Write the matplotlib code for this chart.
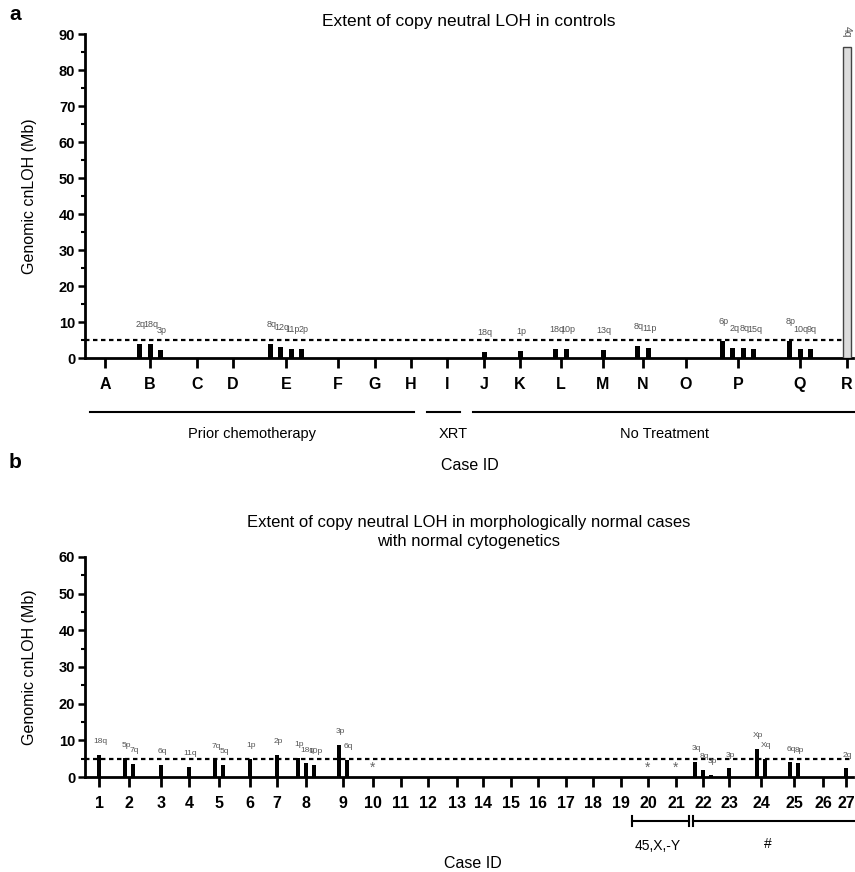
import matplotlib
matplotlib.use("Agg")
import matplotlib.pyplot as plt
from matplotlib.ticker import MultipleLocator

plt.rcParams['font.family'] = ['Liberation Sans', 'DejaVu Sans']

# ---- panel a data ----
cases_a = ['A', 'B', 'C', 'D', 'E', 'F', 'G', 'H', 'I',
           'J', 'K', 'L', 'M', 'N', 'O', 'P', 'Q', 'R']
regions_a = [[], ['2q', '18q', '3p'], [], [], ['8q', '12q', '11p', '2p'],
             [], [], [], [], ['18q'], ['1p'], ['18q', '10p'], ['13q'],
             ['8q', '11p'], [], ['6p', '2q', '8q', '15q'], ['8p', '10q', '9q'], ['4q']]
loh_a = [[], [3.8, 3.8, 2.1], [], [], [3.8, 3.1, 2.6, 2.6],
         [], [], [], [], [1.8], [2.0], [2.5, 2.5], [2.1],
         [3.4, 2.9], [], [4.7, 2.9, 2.9, 2.5], [4.7, 2.5, 2.5], [86.5]]
groups_a = ['Prior chemotherapy', 'XRT', 'No Treatment']

# ---- panel b data ----
cases_b = [str(i) for i in range(1, 28)]
regions_b = [['18q'], ['5p', '7q'], ['6q'], ['11q'], ['7q', '5q'], ['1p'], ['2p'],
             ['1p', '18q', '10p'], ['3p', '6q'], [], [], [], [], [], [], [], [], [], [],
             [], [], ['3q', '8q', '3p'], ['3p'], ['Xp', 'Xq'], ['6q', '8p'], [], ['2q']]
loh_b = [[6.0], [5.1, 3.5], [3.4], [2.8], [4.6, 3.4], [4.9], [6.0],
         [5.2, 3.7, 3.4], [8.7, 4.6], [], [], [], [], [], [], [], [], [], [],
         [], [], [4.1, 1.9, 0.5], [2.4], [7.6, 4.9], [4.0, 3.7], [], [2.4]]
starred_b = ['10', '20', '21']
threshold = 5

# ---- layout (x positions in pixel-like units) ----
tick_x_a = [105, 150, 197, 233, 286, 338, 375, 411, 447,
            484, 520, 561, 603, 643, 686, 738, 800, 847]
tick_x_b = [99, 129, 161, 189, 219, 250, 277, 306, 343, 373, 401, 428, 457, 483,
            511, 538, 566, 593, 621, 648, 676, 703, 729, 761, 794, 823, 846]

W, H = 855, 872
fig = plt.figure(figsize=(W / 100, H / 100), dpi=100)


def fx(px):
    return px / W


def fy(py):
    return 1 - py / H


def style_axis(ax, ymax, xticks, labels):
    ax.set_xlim(85, 853)
    ax.set_ylim(0, ymax)
    for s in ['top', 'right']:
        ax.spines[s].set_visible(False)
    for s in ['left', 'bottom']:
        ax.spines[s].set_linewidth(2)
    ax.yaxis.set_major_locator(MultipleLocator(10))
    ax.yaxis.set_minor_locator(MultipleLocator(5))
    ax.tick_params(axis='y', which='major', length=5, width=1.8, labelsize=10.5, pad=2)
    ax.tick_params(axis='y', which='minor', length=3, width=1.5)
    ax.set_xticks(xticks)
    ax.set_xticklabels(labels)
    ax.tick_params(axis='x', length=7, width=2, labelsize=11.5, pad=7)
    for t in ax.get_xticklabels() + ax.get_yticklabels():
        t.set_fontweight('bold')
    ax.set_ylabel('Genomic cnLOH (Mb)', fontsize=11.5, labelpad=16)


def draw_bars(ax, xs, regions, values, step, width, off_pt, fs):
    for x, regs, vals in zip(xs, regions, values):
        n = len(vals)
        for k, (r, v) in enumerate(zip(regs, vals)):
            bx = x + (k - (n - 1) / 2) * step
            ax.bar(bx, v, width=width, color='black', zorder=3)
            ax.annotate(r, (bx, v), xytext=(1, off_pt), textcoords='offset points',
                        ha='center', va='center', fontsize=fs, color='#555555')


# ---------------- panel a ----------------
ax1 = fig.add_axes([fx(85), fy(358), fx(853) - fx(85), (358 - 34) / H])
style_axis(ax1, 90, tick_x_a, cases_a)
draw_bars(ax1, tick_x_a[:-1], regions_a[:-1], loh_a[:-1], 10.5, 5, 14, 6.5)
# the outlier case drawn as an outlined grey bar
ax1.bar(tick_x_a[-1], loh_a[-1][0], width=8.5, color='#dcdcdc', edgecolor='#444444',
        linewidth=1, zorder=3)
ax1.annotate(regions_a[-1][0], (tick_x_a[-1], loh_a[-1][0]), xytext=(0, 11),
             textcoords='offset points', ha='center', va='center', fontsize=7.5,
             color='#555555', rotation=-90)
ax1.plot([85, 843], [threshold, threshold], color='black', lw=1.6,
         linestyle=(0, (2, 1.6)), zorder=2)
ax1.set_title('Extent of copy neutral LOH in controls', fontsize=12.5, pad=6)

tr = ax1.get_xaxis_transform()
yb = -54 / 324
yt = -76 / 324
for (x0, x1), g in zip([(90, 414), (427, 460), (473, 855)], groups_a):
    ax1.plot([x0, x1], [yb, yb], color='black', lw=1.5, transform=tr, clip_on=False)
    ax1.text((x0 + x1) / 2 + (10 if g == 'XRT' else 0), yt, g, transform=tr,
             ha='center', va='center', fontsize=10.5)
ax1.text(470, -107 / 324, 'Case ID', transform=tr, ha='center', va='center', fontsize=11.5)

# ---------------- panel b ----------------
ax2 = fig.add_axes([fx(85), fy(777), fx(853) - fx(85), (777 - 557) / H])
style_axis(ax2, 60, tick_x_b, cases_b)
draw_bars(ax2, tick_x_b, regions_b, loh_b, 8, 3.5, 9.5, 6)
for c in starred_b:
    ax2.text(tick_x_b[cases_b.index(c)], 2.4, '*', ha='center', va='center',
             fontsize=10, color='#666666')
ax2.plot([85, 853], [threshold, threshold], color='black', lw=1.6,
         linestyle=(0, (2, 1.6)), zorder=2)
ax2.set_title('Extent of copy neutral LOH in morphologically normal cases\n'
              'with normal cytogenetics', fontsize=12, pad=8, linespacing=1.3)

tr2 = ax2.get_xaxis_transform()
yb2 = -44 / 220
tk = 5 / 220
ax2.plot([632, 689], [yb2, yb2], color='black', lw=1.5, transform=tr2, clip_on=False)
ax2.plot([693, 855], [yb2, yb2], color='black', lw=1.5, transform=tr2, clip_on=False)
for x in [632, 689, 693]:
    ax2.plot([x, x], [yb2 - tk, yb2 + tk], color='black', lw=1.5, transform=tr2,
             clip_on=False)
ax2.text(658, -69 / 220, '45,X,-Y', transform=tr2, ha='center', va='center', fontsize=10)
ax2.text(768, -67 / 220, '#', transform=tr2, ha='center', va='center', fontsize=10)
ax2.text(473, -86 / 220, 'Case ID', transform=tr2, ha='center', va='center', fontsize=11.5)

fig.text(fx(15), fy(15), 'a', fontsize=15, fontweight='bold', ha='center', va='center')
fig.text(fx(15), fy(462), 'b', fontsize=15, fontweight='bold', ha='center', va='center')

fig.savefig('out.png', dpi=100)
